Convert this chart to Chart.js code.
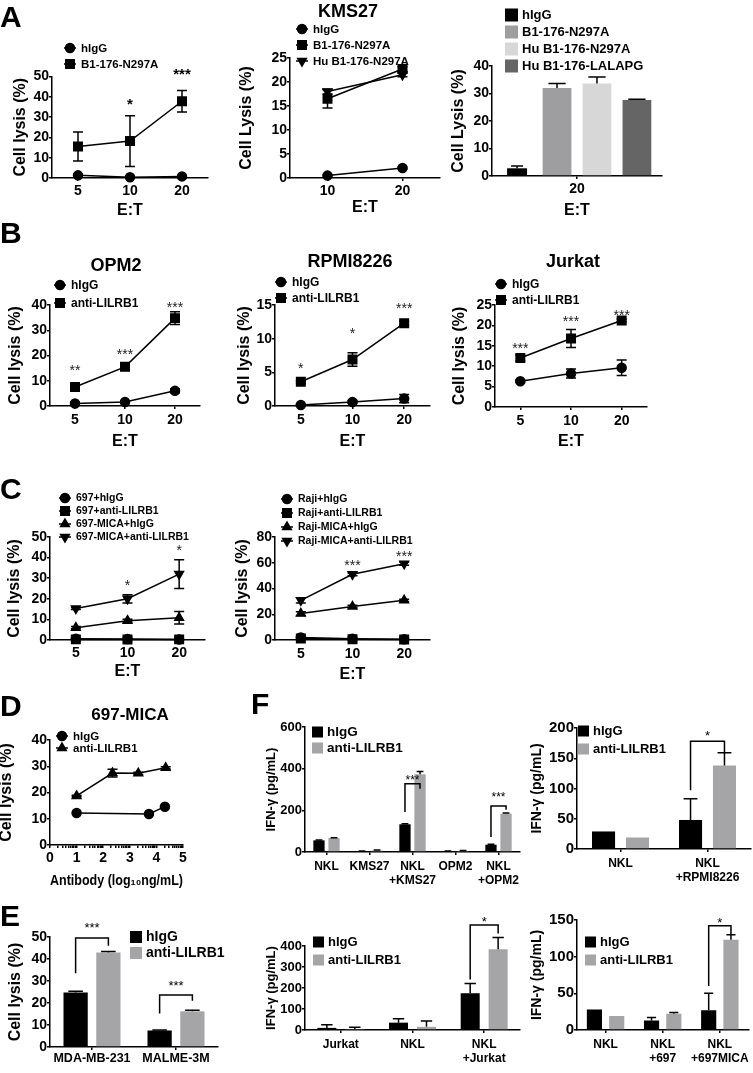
<!DOCTYPE html>
<html>
<head>
<meta charset="utf-8">
<script src="https://cdn.jsdelivr.net/npm/chart.js@4.4.0/dist/chart.umd.min.js"></script>
<style>
body { margin: 0; background: #fff; width: 753px; height: 1073px; overflow: hidden; position: relative; font-family: "Liberation Sans", Arial, sans-serif; }
canvas { position: absolute; left: 0; top: 0; }
.lbl { position: absolute; font-weight: bold; font-size: 30px; line-height: 30px; }
</style>
</head>
<body>
<canvas id="a1" width="753" height="1073"></canvas>
<canvas id="a2" width="753" height="1073"></canvas>
<canvas id="a3" width="753" height="1073"></canvas>
<canvas id="b1" width="753" height="1073"></canvas>
<canvas id="b2" width="753" height="1073"></canvas>
<canvas id="b3" width="753" height="1073"></canvas>
<canvas id="c1" width="753" height="1073"></canvas>
<canvas id="c2" width="753" height="1073"></canvas>
<canvas id="d1" width="753" height="1073"></canvas>
<canvas id="e1" width="753" height="1073"></canvas>
<canvas id="f1" width="753" height="1073"></canvas>
<canvas id="f2" width="753" height="1073"></canvas>
<canvas id="f3" width="753" height="1073"></canvas>
<canvas id="f4" width="753" height="1073"></canvas>
<div class="lbl" style="left:0;top:2px">A</div>
<div class="lbl" style="left:0;top:218px">B</div>
<div class="lbl" style="left:0;top:474px">C</div>
<div class="lbl" style="left:0;top:691px">D</div>
<div class="lbl" style="left:0;top:901px">E</div>
<div class="lbl" style="left:251px;top:689px">F</div>
<script>
const FONT = "'Liberation Sans', Arial, sans-serif";
Chart.defaults.font.family = FONT;
Chart.defaults.color = "#000";

// ---- data ----
const etLabels = ["5", "10", "20"];

const a1Igg = [1.3, 0.4, 0.8];
const a1IggErr = [0.6, 0.3, 0.3];
const a1B1 = [15.5, 18.2, 37.8];
const a1B1Err = [7.1, 12.5, 5.3];
const a1Stars = ["", "*", "***"];
const a1StarAt = [null, 38.4, 53];

const a2Labels = ["10", "20"];
const a2Igg = [0.5, 2.1];
const a2IggErr = [0.1, 0.2];
const a2B1 = [16.5, 22.7];
const a2B1Err = [1.9, 0.5];
const a2Hu = [18.0, 21.5];
const a2HuErr = [0.5, 0.4];

const a3Labels = ["20"];
const a3Igg = [2.8];
const a3IggErr = [0.8];
const a3B1 = [32.0];
const a3B1Err = [1.6];
const a3Hu = [33.6];
const a3HuErr = [2.4];
const a3Lala = [27.6];
const a3LalaErr = [0.3];

const b1Igg = [1.0, 1.6, 6.0];
const b1IggErr = [0.6, 0.4, 0.8];
const b1Anti = [7.5, 15.5, 34.8];
const b1AntiErr = [1.0, 1.0, 2.5];
const b1Stars = ["**", "***", "***"];
const b1StarAt = [15.6, 22, 40.4];

const b2Igg = [0.15, 0.6, 1.1];
const b2IggErr = [0.1, 0.2, 0.6];
const b2Anti = [3.6, 6.9, 12.3];
const b2AntiErr = [0.2, 1.0, 0.3];
const b2Stars = ["*", "*", "***"];
const b2StarAt = [6.1, 11.3, 15];

const b3Igg = [6.3, 8.2, 9.6];
const b3IggErr = [0.3, 1.1, 1.9];
const b3Anti = [12.0, 16.8, 21.2];
const b3AntiErr = [0.7, 2.2, 0.3];
const b3Stars = ["***", "***", "***"];
const b3StarAt = [15.2, 21.8, 23.3];

const c1Igg = [0.6, 0.5, 0.2];
const c1Anti = [0.3, 0.2, 0.3];
const c1MicaIgg = [6.0, 9.4, 10.8];
const c1MicaIggErr = [0.5, 0.7, 3.0];
const c1MicaAnti = [15.3, 20.0, 32.0];
const c1MicaAntiErr = [0.5, 2.0, 7.0];
const c1Stars = ["", "*", "*"];
const c1StarAt = [null, 28, 45];

const c2Igg = [2.0, 1.0, 0.5];
const c2Anti = [1.2, 0.6, 0.3];
const c2MicaIgg = [20.5, 26.0, 30.8];
const c2MicaIggErr = [1.5, 1.0, 0.8];
const c2MicaAnti = [30.8, 51.0, 59.3];
const c2MicaAntiErr = [2.0, 1.0, 1.3];
const c2Stars = ["", "***", "***"];
const c2StarAt = [null, 60.5, 68];

const dIggX = [1, 3.72, 4.32];
const dIgg = [12.2, 11.8, 14.6];
const dAntiX = [1, 2.35, 3.32, 4.35];
const dAnti = [18.7, 27.4, 27.3, 29.4];
const dAntiErr = [0.3, 1.5, 0.4, 0.4];

const eLabels = ["MDA-MB-231", "MALME-3M"];
const eIgg = [24.8, 7.5];
const eIggErr = [0.5, 0.2];
const eAnti = [43.0, 16.2];
const eAntiErr = [0.4, 0.5];
const eSig = ["***", "***"];
const eBracket = [[33.5, 49.5, 46, 55.6], [15.2, 23.6, 21, 29.3]];

const f1Labels = ["NKL", "KMS27", ["NKL", "+KMS27"], "OPM2", ["NKL", "+OPM2"]];
const f1Igg = [56, 4, 133, 4, 35];
const f1IggErr = [2, 1, 3, 1, 2];
const f1Anti = [67, 7, 373, 5, 184];
const f1AntiErr = [2, 3, 14, 2, 3];
const f1Sig = ["", "", "***", "", "***"];
const f1Bracket = [null, null, [192, 328, 304, 360], null, [72, 221, 203, 280]];

const f2Labels = ["NKL", ["NKL", "+RPMI8226"]];
const f2Igg = [29, 48];
const f2IggErr = [0, 35];
const f2Anti = [19, 138];
const f2AntiErr = [0, 21];
const f2Sig = ["", "*"];
const f2Bracket = [null, [97, 178, 160, 193]];

const f3Labels = ["Jurkat", "NKL", ["NKL", "+Jurkat"]];
const f3Igg = [10, 35, 175];
const f3IggErr = [15, 18, 47];
const f3Anti = [5, 15, 385];
const f3AntiErr = [8, 28, 55];
const f3Sig = ["", "", "*"];
const f3Bracket = [null, null, [240, 500, 460, 530]];

const f4Labels = ["NKL", ["NKL", "+697"], ["NKL", "+697MICA"]];
const f4Igg = [28, 13, 27];
const f4IggErr = [0, 4, 23];
const f4Anti = [19, 22, 123];
const f4AntiErr = [0, 2, 7];
const f4Sig = ["", "", "*"];
const f4Bracket = [null, null, [60, 142, 130, 150]];

// ---- drawing helpers ----
const decor = {
    id: "decor",
    afterDatasetsDraw(chart, args, o) {
        const ctx = chart.ctx;
        const y = chart.scales.y;
        ctx.save();
        ctx.strokeStyle = "#000";
        ctx.lineWidth = 1.5;
        chart.data.datasets.forEach((ds, i) => {
            if (!ds.err) return;
            const meta = chart.getDatasetMeta(i);
            const isBar = meta.type === "bar";
            meta.data.forEach((el, j) => {
                const e = ds.err[j];
                if (!e) return;
                const d = ds.data[j];
                const v = typeof d === "object" ? d.y : d;
                const top = y.getPixelForValue(v + e);
                const bot = isBar ? el.y : y.getPixelForValue(v - e);
                const w = isBar ? el.width * 0.3 : 5;
                ctx.beginPath();
                ctx.moveTo(el.x, bot);
                ctx.lineTo(el.x, top);
                ctx.moveTo(el.x - w, top);
                ctx.lineTo(el.x + w, top);
                if (!isBar) {
                    ctx.moveTo(el.x - w, bot);
                    ctx.lineTo(el.x + w, bot);
                }
                ctx.stroke();
            });
        });
        ctx.restore();
    },
    afterDraw(chart, args, o) {
        const ctx = chart.ctx;
        const x = chart.scales.x;
        const y = chart.scales.y;
        ctx.save();
        ctx.fillStyle = "#000";
        ctx.strokeStyle = "#000";

        if (o.title) {
            ctx.font = "bold " + o.title.size + "px " + FONT;
            ctx.textAlign = "center";
            ctx.textBaseline = "middle";
            ctx.fillText(o.title.text, o.title.x, o.title.y);
        }

        const star = (text, px, py, size, weight, color) => {
            ctx.font = weight + " " + size + "px " + FONT;
            ctx.fillStyle = color;
            ctx.textAlign = "center";
            ctx.textBaseline = "alphabetic";
            ctx.fillText(text, px, py + size * 0.575);
            ctx.fillStyle = "#000";
        };

        if (o.stars) {
            o.stars.text.forEach((t, j) => {
                if (!t) return;
                star(t, x.getPixelForValue(j), y.getPixelForValue(o.stars.at[j]), o.stars.size, o.stars.weight, o.stars.color);
            });
        }

        if (o.brackets) {
            ctx.lineWidth = 1.5;
            o.brackets.lv.forEach((b, j) => {
                if (!b) return;
                const x1 = chart.getDatasetMeta(0).data[j].x;
                const x2 = chart.getDatasetMeta(1).data[j].x;
                ctx.beginPath();
                ctx.moveTo(x1, y.getPixelForValue(b[0]));
                ctx.lineTo(x1, y.getPixelForValue(b[1]));
                ctx.lineTo(x2, y.getPixelForValue(b[1]));
                ctx.lineTo(x2, y.getPixelForValue(b[2]));
                ctx.stroke();
                star(o.brackets.text[j], (x1 + x2) / 2, y.getPixelForValue(b[3]), o.brackets.size, "normal", "#000");
            });
        }

        if (o.legend) {
            const L = o.legend;
            ctx.font = "bold " + L.size + "px " + FONT;
            ctx.textAlign = "left";
            ctx.textBaseline = "middle";
            chart.data.datasets.forEach((ds, i) => {
                const yy = L.y + i * L.dy;
                if (L.box) {
                    ctx.fillStyle = ds.backgroundColor;
                    ctx.fillRect(L.x, yy - L.box / 2, L.box, L.box);
                    ctx.fillStyle = "#000";
                    ctx.fillText(ds.label, L.x + L.box + 4, yy + 0.5);
                } else {
                    ctx.lineWidth = 1.5;
                    ctx.beginPath();
                    ctx.moveTo(L.x - 6, yy);
                    ctx.lineTo(L.x + 6, yy);
                    ctx.stroke();
                    ctx.fillStyle = "#000";
                    Chart.helpers.drawPoint(ctx, {
                        pointStyle: ds.pointStyle,
                        rotation: ds.pointRotation || 0,
                        radius: ds.pointRadius,
                        borderWidth: 1
                    }, L.x, yy);
                    ctx.fillText(ds.label, L.x + 11, yy + 0.5);
                }
            });
        }
        ctx.restore();
    }
};

function yAxis(box, max, step, title, tSize, fSize) {
    fSize = fSize || 16;
    return {
        min: 0,
        max: max,
        afterFit: s => { s.width = box.l; },
        ticks: { stepSize: step, color: "#000", padding: 0, font: { size: tSize || 14, weight: "bold" } },
        grid: { drawOnChartArea: false, tickLength: 3, color: "#000", lineWidth: 1.5 },
        border: { color: "#000", width: 1.5 },
        title: {
            display: true, text: title, color: "#000",
            font: { size: fSize, weight: "bold" },
            padding: { top: box.yt - fSize * 0.6, bottom: 0 }
        }
    };
}

function xAxis(box, title, tSize, tPad) {
    return {
        type: "category",
        offset: true,
        afterFit: s => { s.height = 1073 - box.b; },
        ticks: { color: "#000", padding: tPad, autoSkip: false, maxRotation: 0, font: { size: tSize || 14, weight: "bold" } },
        grid: { drawOnChartArea: false, offset: false, tickLength: 3, color: "#000", lineWidth: 1.5 },
        border: { color: "#000", width: 1.5 },
        title: title ? {
            display: true, text: title, color: "#000",
            font: { size: 16, weight: "bold" },
            padding: { top: 0, bottom: 1073 - box.xt - 9.6 }
        } : { display: false }
    };
}

function frame(box, scales, decorOpts) {
    return {
        responsive: false,
        animation: false,
        layout: { padding: { left: 0, top: box.t, right: 753 - box.r, bottom: 0 } },
        plugins: { legend: { display: false }, tooltip: { enabled: false }, decor: decorOpts },
        scales: scales
    };
}

const marks = {
    circle: { pointStyle: "circle", pointRadius: 4.5 },
    square: { pointStyle: "rect", pointRadius: 6 },
    up: { pointStyle: "triangle", pointRadius: 5 },
    down: { pointStyle: "triangle", pointRadius: 5, pointRotation: 180 }
};

function series(label, data, err, mark) {
    return Object.assign({
        label: label,
        data: data,
        err: err,
        borderColor: "#000",
        backgroundColor: "#000",
        pointBackgroundColor: "#000",
        pointBorderColor: "#000",
        borderWidth: 1.5,
        tension: 0,
        clip: false
    }, marks[mark]);
}

function bars(label, data, err, color, barPct, catPct) {
    return {
        label: label,
        data: data,
        err: err,
        backgroundColor: color,
        barPercentage: barPct,
        categoryPercentage: catPct || 0.78
    };
}

function lineChart(id, box, labels, datasets, max, step, yTitle, decorOpts) {
    return new Chart(document.getElementById(id).getContext("2d"), {
        type: "line",
        data: { labels: labels, datasets: datasets },
        options: frame(box, {
            x: xAxis(box, "E:T", 14, box.tp),
            y: yAxis(box, max, step, yTitle)
        }, decorOpts),
        plugins: [decor]
    });
}

function barChart(id, box, labels, datasets, max, step, yTitle, decorOpts, sizes) {
    return new Chart(document.getElementById(id).getContext("2d"), {
        type: "bar",
        data: { labels: labels, datasets: datasets },
        options: frame(box, {
            x: xAxis(box, box.xt ? "E:T" : null, sizes.tick, box.tp),
            y: yAxis(box, max, step, yTitle, sizes.ytick, sizes.title)
        }, decorOpts),
        plugins: [decor]
    });
}

const bStar = { size: 14, weight: "normal", color: "#222" };

// ---- A ----
lineChart("a1", { l: 52, r: 208, t: 76.5, b: 178, yt: 21, xt: 211, tp: 2 }, etLabels, [
    series("hIgG", a1Igg, a1IggErr, "circle"),
    series("B1-176-N297A", a1B1, a1B1Err, "square")
], 50, 10, "Cell lysis (%)", {
    legend: { x: 70, y: 48, dy: 16, size: 11.5 },
    stars: { text: a1Stars, at: a1StarAt, size: 15, weight: "bold", color: "#000" }
});

lineChart("a2", { l: 290, r: 440, t: 58, b: 178, yt: 247, xt: 208, tp: 2 }, a2Labels, [
    series("hIgG", a2Igg, a2IggErr, "circle"),
    series("B1-176-N297A", a2B1, a2B1Err, "square"),
    series("Hu B1-176-N297A", a2Hu, a2HuErr, "down")
], 25, 5, "Cell Lysis (%)", {
    legend: { x: 302, y: 29, dy: 16, size: 11.5 },
    title: { text: "KMS27", x: 348, y: 12, size: 18 }
});

barChart("a3", { l: 492, r: 662, t: 66, b: 176, yt: 459, xt: 211, tp: 2 }, a3Labels, [
    bars("hIgG", a3Igg, a3IggErr, "#000", 0.5, 0.94),
    bars("B1-176-N297A", a3B1, a3B1Err, "#9e9ea0", 0.72, 0.94),
    bars("Hu B1-176-N297A", a3Hu, a3HuErr, "#d7d7d7", 0.72, 0.94),
    bars("Hu B1-176-LALAPG", a3Lala, a3LalaErr, "#656565", 0.72, 0.94)
], 40, 10, "Cell Lysis (%)", {
    legend: { x: 505, y: 15, dy: 17, size: 13, box: 13 }
}, { tick: 14, ytick: 14, title: 16 });

// ---- B ----
lineChart("b1", { l: 50, r: 200, t: 305, b: 406, yt: 16, xt: 442, tp: 3 }, etLabels, [
    series("hIgG", b1Igg, b1IggErr, "circle"),
    series("anti-LILRB1", b1Anti, b1AntiErr, "square")
], 40, 10, "Cell lysis (%)", {
    legend: { x: 60, y: 285, dy: 18, size: 12 },
    title: { text: "OPM2", x: 116, y: 266, size: 18 },
    stars: Object.assign({ text: b1Stars, at: b1StarAt }, bStar)
});

lineChart("b2", { l: 275, r: 430, t: 305, b: 406, yt: 245, xt: 442, tp: 3 }, etLabels, [
    series("hIgG", b2Igg, b2IggErr, "circle"),
    series("anti-LILRB1", b2Anti, b2AntiErr, "square")
], 15, 5, "Cell lysis (%)", {
    legend: { x: 281, y: 282, dy: 16, size: 12 },
    title: { text: "RPMI8226", x: 350, y: 262, size: 18 },
    stars: Object.assign({ text: b2Stars, at: b2StarAt }, bStar)
});

lineChart("b3", { l: 495, r: 647, t: 305, b: 407, yt: 460, xt: 442, tp: 3 }, etLabels, [
    series("hIgG", b3Igg, b3IggErr, "circle"),
    series("anti-LILRB1", b3Anti, b3AntiErr, "square")
], 25, 5, "Cell lysis (%)", {
    legend: { x: 501, y: 284, dy: 16, size: 12 },
    title: { text: "Jurkat", x: 573, y: 262, size: 18 },
    stars: Object.assign({ text: b3Stars, at: b3StarAt }, bStar)
});

// ---- C ----
lineChart("c1", { l: 50, r: 205, t: 537, b: 640, yt: 15, xt: 672, tp: 2 }, etLabels, [
    series("697+hIgG", c1Igg, null, "circle"),
    series("697+anti-LILRB1", c1Anti, null, "square"),
    series("697-MICA+hIgG", c1MicaIgg, c1MicaIggErr, "up"),
    series("697-MICA+anti-LILRB1", c1MicaAnti, c1MicaAntiErr, "down")
], 50, 10, "Cell lysis (%)", {
    legend: { x: 65, y: 498, dy: 13, size: 10.5 },
    stars: Object.assign({ text: c1Stars, at: c1StarAt }, bStar)
});

lineChart("c2", { l: 275, r: 430, t: 537, b: 640, yt: 243, xt: 675, tp: 3 }, etLabels, [
    series("Raji+hIgG", c2Igg, null, "circle"),
    series("Raji+anti-LILRB1", c2Anti, null, "square"),
    series("Raji-MICA+hIgG", c2MicaIgg, c2MicaIggErr, "up"),
    series("Raji-MICA+anti-LILRB1", c2MicaAnti, c2MicaAntiErr, "down")
], 80, 20, "Cell lysis (%)", {
    legend: { x: 287, y: 499, dy: 14, size: 10.5 },
    stars: Object.assign({ text: c2Stars, at: c2StarAt }, bStar)
});

// ---- D ----
const dBox = { l: 50, r: 183, t: 740, b: 845, yt: 7, xt: 880 };
const dX = xAxis(dBox, "Antibody (log\u2081\u2080ng/mL)", 14, 2);
dX.type = "linear";
dX.offset = false;
dX.min = 0;
dX.max = 5;
dX.title.font = { size: 14.5, weight: "bold" };
dX.ticks.callback = v => Number.isInteger(v) ? String(v) : "";
dX.afterBuildTicks = s => {
    const t = [];
    for (let d = 0; d < 5; d++) {
        t.push({ value: d });
        for (let k = 2; k < 10; k++) t.push({ value: d + Math.log10(k) });
    }
    t.push({ value: 5 });
    s.ticks = t;
};
new Chart(document.getElementById("d1").getContext("2d"), {
    type: "line",
    data: {
        datasets: [
            series("hIgG", dIggX.map((v, i) => ({ x: v, y: dIgg[i] })), null, "circle"),
            series("anti-LILRB1", dAntiX.map((v, i) => ({ x: v, y: dAnti[i] })), dAntiErr, "up")
        ]
    },
    options: frame(dBox, { x: dX, y: yAxis(dBox, 40, 10, "Cell lysis (%)") }, {
        legend: { x: 62, y: 736, dy: 12, size: 11.5 },
        title: { text: "697-MICA", x: 130, y: 715, size: 17 }
    }),
    plugins: [decor]
});

// ---- E ----
barChart("e1", { l: 50, r: 218, t: 937, b: 1047, yt: 16, tp: 1 }, eLabels, [
    bars("hIgG", eIgg, eIggErr, "#000", 0.74),
    bars("anti-LILRB1", eAnti, eAntiErr, "#a5a5a7", 0.74)
], 50, 10, "Cell lysis (%)", {
    legend: { x: 130, y: 937, dy: 16, size: 14, box: 12 },
    brackets: { lv: eBracket, text: eSig, size: 13 }
}, { tick: 12.5, ytick: 14, title: 16 });

// ---- F ----
const fSizes = { tick: 12, ytick: 13, title: 13 };
const fSizesR = { tick: 12, ytick: 15, title: 14 };
barChart("f1", { l: 305, r: 520, t: 727, b: 852, yt: 271, tp: 4 }, f1Labels, [
    bars("hIgG", f1Igg, f1IggErr, "#000", 0.75, 0.7),
    bars("anti-LILRB1", f1Anti, f1AntiErr, "#a5a5a7", 0.75, 0.7)
], 600, 200, "IFN-\u03b3 (pg/mL)", {
    legend: { x: 312, y: 732, dy: 16, size: 13.5, box: 11 },
    brackets: { lv: f1Bracket, text: f1Sig, size: 12 }
}, fSizes);

barChart("f2", { l: 577, r: 751, t: 728, b: 849, yt: 537, tp: 4 }, f2Labels, [
    bars("hIgG", f2Igg, f2IggErr, "#000", 0.68),
    bars("anti-LILRB1", f2Anti, f2AntiErr, "#a5a5a7", 0.68)
], 200, 50, "IFN-\u03b3 (pg/mL)", {
    legend: { x: 578, y: 731, dy: 18, size: 13, box: 11 },
    brackets: { lv: f2Bracket, text: f2Sig, size: 13 }
}, fSizesR);

barChart("f3", { l: 305, r: 520, t: 946, b: 1030, yt: 271, tp: 4 }, f3Labels, [
    bars("hIgG", f3Igg, f3IggErr, "#000", 0.68),
    bars("anti-LILRB1", f3Anti, f3AntiErr, "#a5a5a7", 0.68)
], 400, 100, "IFN-\u03b3 (pg/mL)", {
    legend: { x: 313, y: 942, dy: 18, size: 13, box: 11 },
    brackets: { lv: f3Bracket, text: f3Sig, size: 13 }
}, fSizes);

barChart("f4", { l: 577, r: 751, t: 920, b: 1030, yt: 537, tp: 4 }, f4Labels, [
    bars("hIgG", f4Igg, f4IggErr, "#000", 0.68),
    bars("anti-LILRB1", f4Anti, f4AntiErr, "#a5a5a7", 0.68)
], 150, 50, "IFN-\u03b3 (pg/mL)", {
    legend: { x: 585, y: 942, dy: 18, size: 13, box: 11 },
    brackets: { lv: f4Bracket, text: f4Sig, size: 13 }
}, fSizesR);
</script>
</body>
</html>
